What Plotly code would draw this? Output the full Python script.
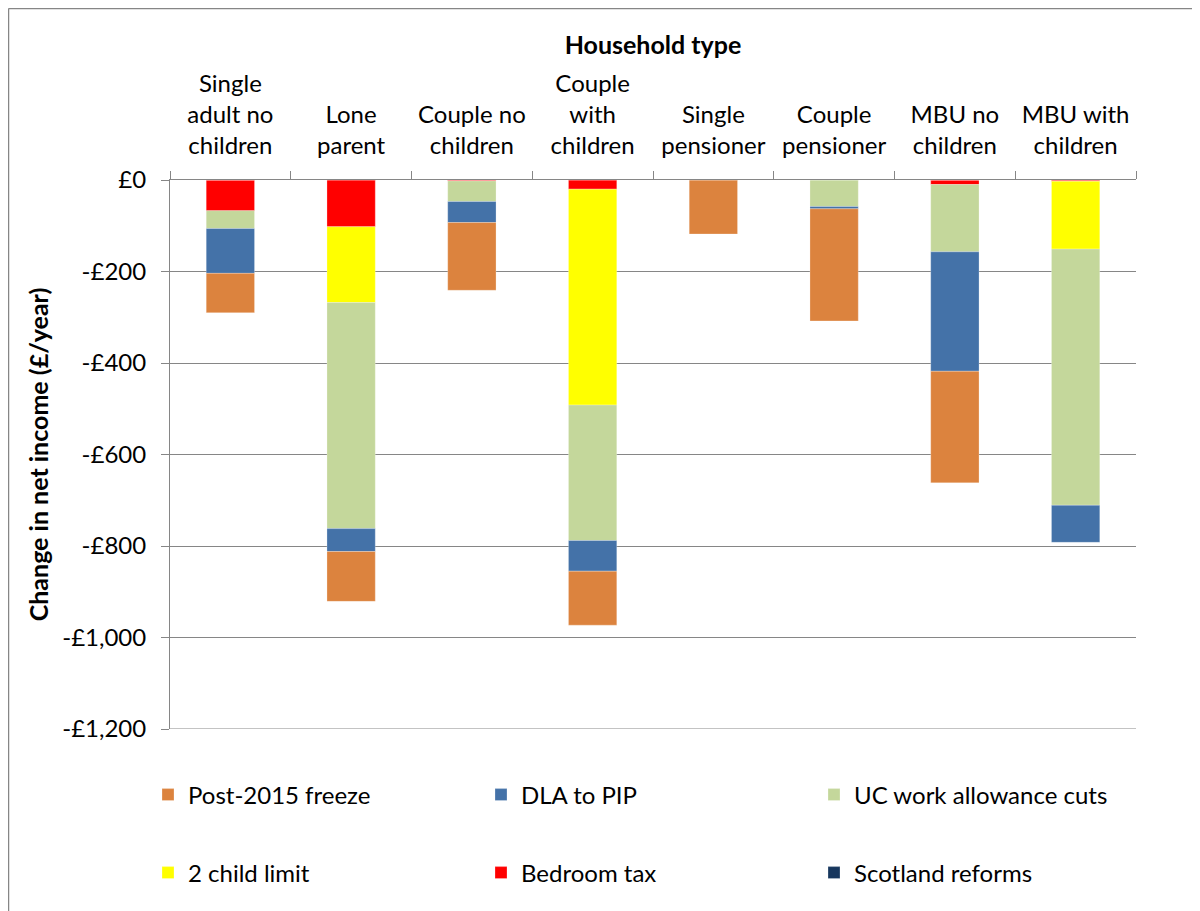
import plotly.graph_objects as go

categories = [
    "Single<br>adult no<br>children", "Lone<br>parent", "Couple no<br>children",
    "Couple<br>with<br>children", "Single<br>pensioner", "Couple<br>pensioner",
    "MBU no<br>children", "MBU with<br>children",
]

# Values (£/year change)
bedroom_tax = [-67, -102, -2, -20, 0, 0, -10, -3]
two_child_limit = [0, -166, 0, -472, 0, 0, 0, -148]
uc_work_allowance = [-39, -494, -45, -296, 0, -58, -147, -560]
dla_to_pip = [-98, -50, -46, -67, 0, -5, -261, -81]
post_2015_freeze = [-86, -109, -148, -118, -118, -245, -244, 0]
scotland_reforms = [0, 0, 0, 0, 0, 0, 0, 0]

y_tickvals = [0, -200, -400, -600, -800, -1000, -1200]
y_ticktext = ["£0", "-£200", "-£400", "-£600", "-£800", "-£1,000", "-£1,200"]

FONT = "Lato, Carlito, Calibri, sans-serif"
GRID = "#868686"
FS = 24
FT = 25

# stacking order from zero downward
series = [
    ("Bedroom tax", bedroom_tax, "#FF0000", "legend2", 2),
    ("2 child limit", two_child_limit, "#FFFF00", "legend2", 1),
    ("UC work allowance cuts", uc_work_allowance, "#C4D79B", "legend", 3),
    ("DLA to PIP", dla_to_pip, "#4472A8", "legend", 2),
    ("Post-2015 freeze", post_2015_freeze, "#DC833E", "legend", 1),
    ("Scotland reforms", scotland_reforms, "#17375E", "legend2", 3),
]

fig = go.Figure()
for name, vals, color, leg, rank in series:
    fig.add_trace(go.Bar(
        x=categories, y=vals, name=name, legend=leg, legendrank=rank,
        marker=dict(color=color, line=dict(color="rgba(255,255,255,0.5)", width=0.5)),
    ))

# page body adds an 8px offset; work in screen pixel coordinates
OFF = 8
W, H = 1192, 903
SL, SR, ST, SB = 170, 1136, 180, 729  # plot area on screen
L, T = SL - OFF, ST - OFF
R = W - (SR - OFF)
B = H - (SB - OFF)
pw, ph = SR - SL, SB - ST

def px_x(p):
    return (p - SL) / pw

def px_y(p):
    return (SB - p) / ph

leg_common = dict(
    orientation="h", xanchor="left", yanchor="middle",
    entrywidth=288, entrywidthmode="pixels", font=dict(size=FS, family=FONT),
    traceorder="normal", bgcolor="rgba(0,0,0,0)", itemclick=False,
)

fig.update_layout(
    width=W, height=H,
    margin=dict(l=L, r=R, t=T, b=B),
    barmode="relative",
    bargap=0.6,
    plot_bgcolor="white",
    paper_bgcolor="white",
    font=dict(family=FONT, size=FS, color="#000000"),
    xaxis=dict(
        side="top",
        title=dict(text="<b>Household type</b>", font=dict(size=FT, family=FONT), standoff=6),
        showline=True, linecolor=GRID, linewidth=1,
        ticks="outside", ticklen=8, tickcolor=GRID, tickson="boundaries",
        tickfont=dict(size=FS, family=FONT), ticklabelstandoff=15,
        showgrid=False,
    ),
    yaxis=dict(
        range=[-1200, 0],
        tickvals=y_tickvals, ticktext=y_ticktext,
        title=dict(text="<b>Change in net income (£/year)</b>", font=dict(size=FT, family=FONT), standoff=6),
        showline=True, linecolor=GRID, linewidth=1,
        ticks="outside", ticklen=8, tickcolor=GRID,
        ticklabelstandoff=10,
        showgrid=True, gridcolor=GRID, gridwidth=1,
        zeroline=False,
        tickfont=dict(size=FS, family=FONT),
    ),
    legend=dict(x=px_x(148), y=px_y(795), **leg_common),
    legend2=dict(x=px_x(148), y=px_y(873), **leg_common),
    shapes=[
        dict(type="line", xref="paper", yref="y", x0=0, x1=1, y0=-1200, y1=-1200,
             line=dict(color=GRID, width=1)),
        dict(type="line", xref="paper", yref="paper",
             x0=px_x(8.5), x1=px_x(8.5), y0=px_y(915), y1=px_y(8.5),
             line=dict(color=GRID, width=1.5)),
        dict(type="line", xref="paper", yref="paper",
             x0=px_x(8.5), x1=px_x(1205), y0=px_y(8.5), y1=px_y(8.5),
             line=dict(color=GRID, width=1.5)),
    ],
)

fig.write_html("out.html")
